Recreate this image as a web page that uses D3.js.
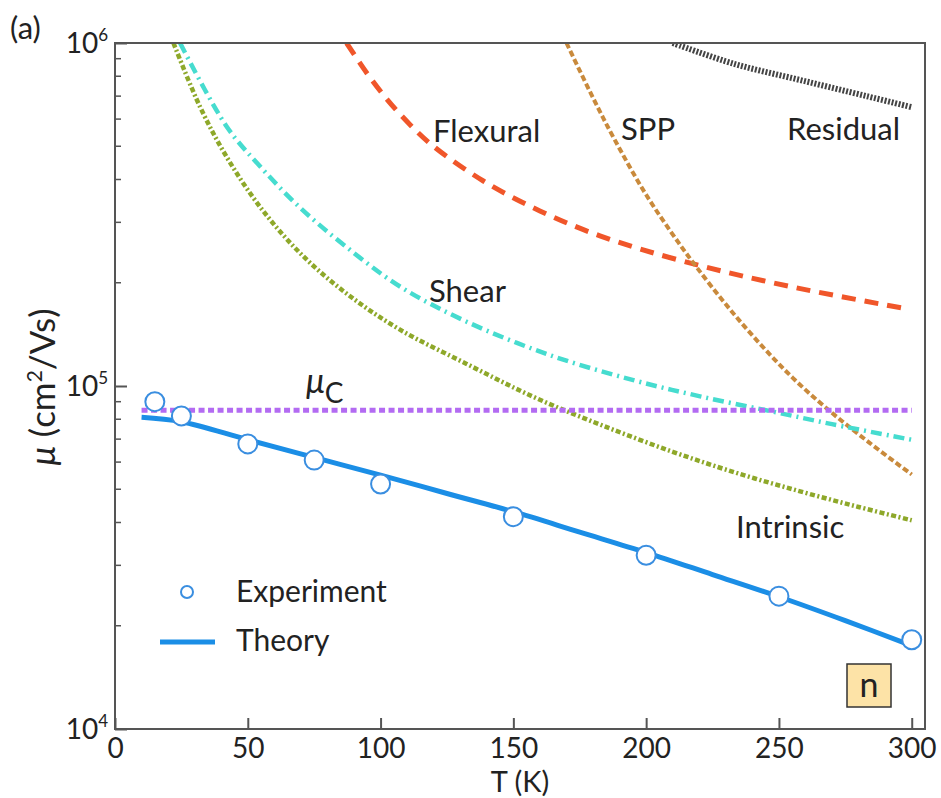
<!DOCTYPE html>
<html>
<head>
<meta charset="utf-8">
<script src="https://cdn.jsdelivr.net/npm/d3@7"></script>
<style>
  body { margin: 0; background: #fff; }
  text { font-family: Lato, "Open Sans", sans-serif; fill: #222; }
</style>
</head>
<body>
<div class="vis"></div>
<script>
// values (T in K, mobility in cm^2/Vs)
const expT = [15, 25, 50, 75, 100, 150, 200, 250, 300];
const expMu = [9.0e4, 8.18e4, 6.78e4, 6.08e4, 5.18e4, 4.16e4, 3.21e4, 2.44e4, 1.82e4];

const theoryT = [10, 25, 50, 75, 100, 125, 150, 175, 200, 225, 250, 275, 300];
const theoryMu = [8.11e4, 7.87e4, 6.97e4, 6.19e4, 5.5e4, 4.86e4, 4.3e4, 3.75e4, 3.27e4, 2.82e4, 2.43e4, 2.07e4, 1.75e4];

const coulombT = [10, 300];
const coulombMu = [8.5e4, 8.5e4];

const intrinsicT = [22, 32, 42, 54.6, 69.7, 87.2, 107.3, 132.4, 157.5, 183, 210, 234, 258, 280, 300];
const intrinsicMu = [1e6, 6.52e5, 4.66e5, 3.33e5, 2.44e5, 1.86e5, 1.46e5, 1.16e5, 9.3e4, 7.7e4, 6.43e4, 5.58e4, 4.93e4, 4.44e4, 4.06e4];

const shearT = [24.5, 42.1, 54.6, 69.7, 87.2, 107.3, 132.4, 163.8, 195.2, 220.3, 248, 270, 300];
const shearMu = [1e6, 5.7e5, 4.37e5, 3.31e5, 2.54e5, 1.95e5, 1.54e5, 1.23e5, 1.04e5, 9.33e4, 8.41e4, 7.74e4, 6.97e4];

const flexuralT = [87.2, 94.8, 102.3, 111.1, 119.9, 138.7, 160, 182.6, 214, 254.2, 298];
const flexuralMu = [1e6, 8.18e5, 6.87e5, 5.78e5, 5.0e5, 3.96e5, 3.24e5, 2.74e5, 2.31e5, 1.95e5, 1.68e5];

const sppT = [170, 180, 188, 200, 212, 219, 230, 242, 255, 269, 284, 300];
const sppMu = [1e6, 6.92e5, 5.25e5, 3.61e5, 2.63e5, 2.22e5, 1.73e5, 1.35e5, 1.06e5, 8.47e4, 6.84e4, 5.52e4];

const residualT = [210, 233, 258, 283, 300];
const residualMu = [1e6, 8.7e5, 7.8e5, 7.0e5, 6.5e5];

const xTicks = [0, 50, 100, 150, 200, 250, 300];
const yTicks = [1e4, 1e5, 1e6];

// layout
const W = 941, H = 798;
const m = { left: 115, right: 925, top: 43, bottom: 729 };

const svg = d3.select(".vis").append("svg")
  .attr("width", W)
  .attr("height", H);

const x = d3.scaleLinear().domain([0, 305]).range([m.left, m.right]);
const y = d3.scaleLog().domain([1e4, 1e6]).range([m.bottom, m.top]);

svg.append("defs").append("clipPath").attr("id", "plot")
  .append("rect")
  .attr("x", m.left).attr("y", m.top)
  .attr("width", m.right - m.left).attr("height", m.bottom - m.top);

const zip = (ts, vs) => ts.map((t, i) => ({ t: t, v: vs[i] }));

const line = d3.line()
  .x(d => x(d.t))
  .y(d => y(d.v))
  .curve(d3.curveCatmullRom.alpha(0.5));

const series = [
  { t: residualT, v: residualMu, color: "#444", width: 6, dash: "2,1.6" },
  { t: flexuralT, v: flexuralMu, color: "#f0562a", width: 5, dash: "14,9" },
  { t: sppT, v: sppMu, color: "#c98a3c", width: 4, dash: "6,3" },
  { t: shearT, v: shearMu, color: "#46dccf", width: 4.5, dash: "11,5,2,5" },
  { t: intrinsicT, v: intrinsicMu, color: "#8ea82a", width: 4.5, dash: "5,2.5,2,2.5" },
  { t: coulombT, v: coulombMu, color: "#b36bf2", width: 5, dash: "6,3.5" },
  { t: theoryT, v: theoryMu, color: "#1b8ee6", width: 5, dash: null }
];

const plot = svg.append("g").attr("clip-path", "url(#plot)");

series.forEach(s => {
  plot.append("path")
    .datum(zip(s.t, s.v))
    .attr("fill", "none")
    .attr("stroke", s.color)
    .attr("stroke-width", s.width)
    .attr("stroke-dasharray", s.dash)
    .attr("d", line);
});

// experiment points
svg.selectAll("circle.exp")
  .data(zip(expT, expMu))
  .enter().append("circle")
  .attr("class", "exp")
  .attr("cx", d => x(d.t))
  .attr("cy", d => y(d.v))
  .attr("r", 9.5)
  .attr("fill", "#fff")
  .attr("stroke", "#3a8ee0")
  .attr("stroke-width", 2);

// frame
svg.append("rect")
  .attr("x", m.left).attr("y", m.top)
  .attr("width", m.right - m.left).attr("height", m.bottom - m.top)
  .attr("fill", "none")
  .attr("stroke", "#555")
  .attr("stroke-width", 2);

// x axis, ticks inward
const xAxis = svg.append("g")
  .attr("transform", "translate(0," + m.bottom + ")")
  .call(d3.axisBottom(x).tickValues(xTicks).tickSize(-11).tickPadding(9));
xAxis.select(".domain").remove();
xAxis.selectAll(".tick line").attr("stroke", "#555").attr("stroke-width", 2);
xAxis.selectAll(".tick text")
  .style("font-family", "Lato, sans-serif")
  .style("font-size", "28px")
  .attr("fill", "#333");

// y axis: minor ticks
const minor = [];
[1e4, 1e5].forEach(d => { for (let k = 2; k <= 9; k++) minor.push(d * k); });
svg.append("g")
  .selectAll("line")
  .data(minor)
  .enter().append("line")
  .attr("x1", m.left).attr("x2", m.left + 6)
  .attr("y1", d => y(d)).attr("y2", d => y(d))
  .attr("stroke", "#555").attr("stroke-width", 1.5);

const yAxis = svg.append("g")
  .attr("transform", "translate(" + m.left + ",0)")
  .call(d3.axisLeft(y).tickValues(yTicks).tickSize(-12).tickPadding(6).tickFormat(""));
yAxis.select(".domain").remove();
yAxis.selectAll(".tick line").attr("stroke", "#555").attr("stroke-width", 2);

// y tick labels 10^n
svg.append("g").selectAll("text")
  .data(yTicks)
  .enter().append("text")
  .attr("x", 108)
  .attr("y", d => y(d) + 10)
  .attr("text-anchor", "end")
  .style("font-size", "28px")
  .attr("fill", "#333")
  .each(function (d) {
    const t = d3.select(this);
    t.append("tspan").text("10");
    t.append("tspan").attr("dy", -12).style("font-size", "17px").text(Math.round(Math.log10(d)));
  });

// axis titles
svg.append("text")
  .attr("x", 520).attr("y", 792)
  .attr("text-anchor", "middle")
  .style("font-size", "29px")
  .text("T (K)");

const yl = svg.append("text")
  .attr("transform", "translate(55,387) rotate(-90)")
  .attr("text-anchor", "middle")
  .style("font-size", "35px");
yl.append("tspan").style("font-style", "italic").text("μ");
yl.append("tspan").text(" (cm");
yl.append("tspan").attr("dy", -13).style("font-size", "21px").text("2");
yl.append("tspan").attr("dy", 13).text("/Vs)");

svg.append("text")
  .attr("x", 10).attr("y", 39)
  .style("font-size", "31px")
  .text("(a)");

// curve labels
const labels = [
  { text: "Flexural", x: 433, y: 142 },
  { text: "SPP", x: 621, y: 140 },
  { text: "Residual", x: 787, y: 140 },
  { text: "Shear", x: 429, y: 302 },
  { text: "Intrinsic", x: 736, y: 538 }
];
svg.append("g").selectAll("text")
  .data(labels)
  .enter().append("text")
  .attr("x", d => d.x).attr("y", d => d.y)
  .style("font-size", "31px")
  .text(d => d.text);

const muc = svg.append("text")
  .attr("x", 306).attr("y", 393)
  .style("font-size", "34px");
muc.append("tspan").style("font-style", "italic").text("μ");
muc.append("tspan").attr("dy", 10).style("font-size", "28px").text("C");

// legend
svg.append("circle")
  .attr("cx", 187).attr("cy", 592).attr("r", 6)
  .attr("fill", "#fff").attr("stroke", "#3a8ee0").attr("stroke-width", 2);
svg.append("text").attr("x", 236).attr("y", 602).style("font-size", "30px").text("Experiment");
svg.append("line")
  .attr("x1", 160).attr("x2", 215).attr("y1", 642).attr("y2", 642)
  .attr("stroke", "#1b8ee6").attr("stroke-width", 5);
svg.append("text").attr("x", 236).attr("y", 651).style("font-size", "30px").text("Theory");

// "n" tag
svg.append("rect")
  .attr("x", 847).attr("y", 664).attr("width", 44).attr("height", 43)
  .attr("fill", "#fde3a7").attr("stroke", "#333").attr("stroke-width", 1.5);
svg.append("text")
  .attr("x", 869).attr("y", 697)
  .attr("text-anchor", "middle")
  .style("font-size", "34px")
  .text("n");
</script>
</body>
</html>
